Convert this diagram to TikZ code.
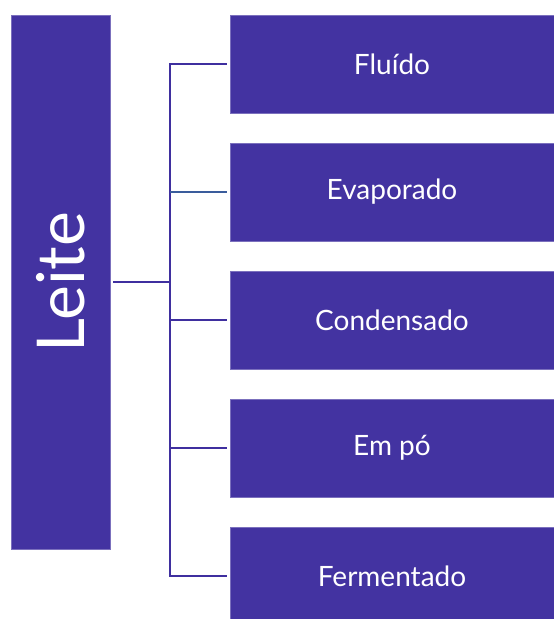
\documentclass[tikz,border=0pt]{standalone}
\usepackage{fontspec}
\setmainfont{Lato}
\usepackage{tikz}
\usetikzlibrary{calc}
\usepackage{xcolor}
\definecolor{milkviolet}{HTML}{4333A1}
\definecolor{milkline}{HTML}{3F2F9F}
\definecolor{milkblue}{HTML}{3A5C9C}

\begin{document}
\begin{tikzpicture}[
  x=1pt, y=-1pt,
  %every node/.style={font=\sffamily},
  ]
  \tikzstyle{root box}=[rectangle,fill=milkviolet,draw=milkviolet!70!white,line width=0.6pt,minimum width=534pt,minimum height=99pt,inner sep=0pt,text=white,font=\fontsize{66}{66}\selectfont]
  \tikzstyle{kind box}=[rectangle,fill=milkviolet,draw=milkviolet!70!white,line width=0.6pt,minimum width=324pt,minimum height=98pt,inner sep=0pt,text=white,font=\fontsize{28}{28}\selectfont]
  \tikzstyle{bracket}=[draw=milkline,line width=2.2pt]
  \useasboundingbox (0,0) rectangle (554,619);
 \node(leite)[root box, rotate=90] at (60.5,282){Leite};
 \node(fluido)[kind box] at (392,64){Flu\'{\i}do};
 \node(evaporado)[kind box] at (392,192){Evaporado};
 \node(condensado)[kind box] at (392,320){Condensado};
 \node(empo)[kind box] at (392,448){Em p\'o};
 \node(fermentado)[kind box] at (392,576){Fermentado};
 \coordinate(bus) at (170,282);
 % left stub and the vertical bar
 \draw[bracket, shorten <=3pt] (leite.south) -- (bus);
 \draw[bracket, line cap=rect] (bus |- fluido.west) -- (bus |- fermentado.west);
 \foreach \k in {fluido,condensado,empo,fermentado}
   \draw[bracket, shorten >=3pt] (bus |- \k.west) -- (\k.west);
 \draw[bracket, draw=milkblue, shorten >=3pt] (bus |- evaporado.west) -- (evaporado.west);
\end{tikzpicture}
\end{document}
